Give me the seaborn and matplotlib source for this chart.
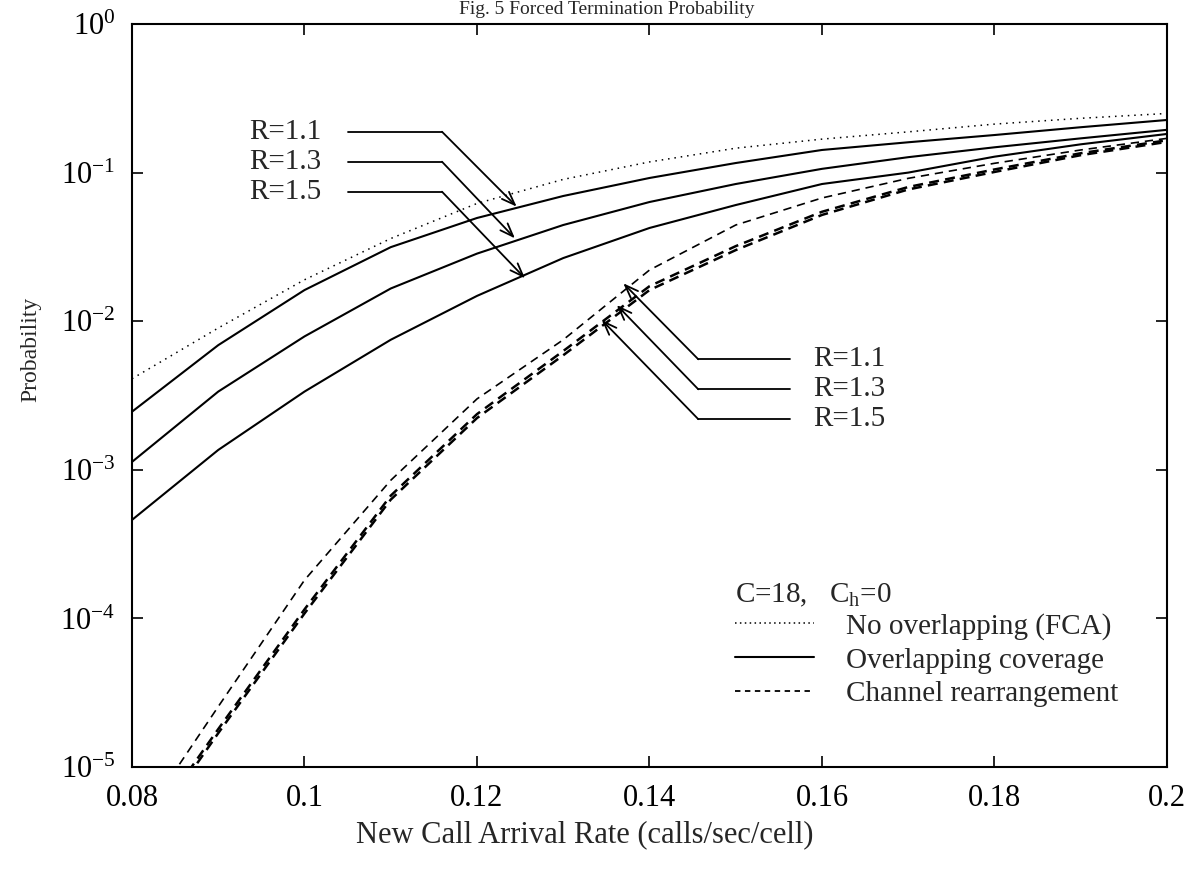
import numpy as np
import pandas as pd
import matplotlib
matplotlib.use("Agg")
import matplotlib.pyplot as plt
from matplotlib.lines import Line2D
from matplotlib.ticker import LogFormatterMathtext, NullLocator, FixedLocator
import seaborn as sns

# ---------------- data ----------------
arrival_rate = [0.08, 0.09, 0.10, 0.11, 0.12, 0.13, 0.14, 0.15, 0.16, 0.17, 0.18, 0.19, 0.20]

no_overlap_fca = [4.1e-3, 9.0e-3, 1.9e-2, 3.6e-2, 6.2e-2, 9.0e-2, 1.18e-1, 1.46e-1, 1.68e-1,
                  1.88e-1, 2.12e-1, 2.32e-1, 2.50e-1]

overlap_r11 = [2.46e-3, 6.9e-3, 1.62e-2, 3.15e-2, 4.95e-2, 6.96e-2, 9.2e-2, 1.16e-1, 1.42e-1,
               1.60e-1, 1.79e-1, 2.02e-1, 2.26e-1]
overlap_r13 = [1.13e-3, 3.36e-3, 7.9e-3, 1.66e-2, 2.85e-2, 4.44e-2, 6.34e-2, 8.38e-2, 1.06e-1,
               1.27e-1, 1.48e-1, 1.70e-1, 1.94e-1]
overlap_r15 = [4.6e-4, 1.36e-3, 3.36e-3, 7.5e-3, 1.48e-2, 2.66e-2, 4.24e-2, 6.05e-2, 8.38e-2,
               1.0e-1, 1.28e-1, 1.55e-1, 1.82e-1]

rearr_r11 = [3.5e-6, 2.55e-5, 1.81e-4, 8.5e-4, 3.0e-3, 7.5e-3, 2.21e-2, 4.44e-2, 6.75e-2,
             9.15e-2, 1.155e-1, 1.42e-1, 1.70e-1]
rearr_r13 = [2.7e-6, 1.8e-5, 1.15e-4, 6.7e-4, 2.37e-3, 6.3e-3, 1.72e-2, 3.2e-2, 5.45e-2,
             8.0e-2, 1.05e-1, 1.35e-1, 1.65e-1]
rearr_r15 = [2.5e-6, 1.69e-5, 1.08e-4, 6.3e-4, 2.23e-3, 5.9e-3, 1.62e-2, 3.01e-2, 5.19e-2,
             7.7e-2, 1.01e-1, 1.31e-1, 1.61e-1]

xtick_values = [0.08, 0.10, 0.12, 0.14, 0.16, 0.18, 0.20]
xtick_labels = ["0.08", "0.1", "0.12", "0.14", "0.16", "0.18", "0.2"]
ytick_values = [1e-5, 1e-4, 1e-3, 1e-2, 1e-1, 1e0]

legend_labels = ["No overlapping (FCA)", "Overlapping coverage", "Channel rearrangement"]
r_labels = ["R=1.1", "R=1.3", "R=1.5"]

# ---------------- style ----------------
sns.set_theme(style="ticks")
plt.rcParams["font.family"] = ["Liberation Serif", "DejaVu Serif"]
plt.rcParams["mathtext.fontset"] = "custom"
plt.rcParams["mathtext.rm"] = "Liberation Serif"
plt.rcParams["mathtext.it"] = "Liberation Serif:italic"
plt.rcParams["axes.linewidth"] = 1.5

fig = plt.figure(figsize=(11.88, 8.77), dpi=100)
ax = fig.add_axes([132 / 1188, 1 - 767 / 877, (1167 - 132) / 1188, (767 - 24) / 877])

series = [
    (no_overlap_fca, dict(linestyle=(0, (1, 3.2)), linewidth=1.1)),
    (overlap_r11, dict(linestyle="-", linewidth=1.5)),
    (overlap_r13, dict(linestyle="-", linewidth=1.5)),
    (overlap_r15, dict(linestyle="-", linewidth=1.5)),
    (rearr_r11, dict(linestyle=(0, (5, 3.5)), linewidth=1.2)),
    (rearr_r13, dict(linestyle=(0, (4, 2.5)), linewidth=1.8)),
    (rearr_r15, dict(linestyle=(0, (4, 2.5)), linewidth=1.8)),
]
for vals, kw in series:
    df = pd.DataFrame({"x": arrival_rate, "y": vals})
    sns.lineplot(data=df, x="x", y="y", ax=ax, color="black", estimator=None,
                 sort=False, legend=False, **kw)

ax.set_yscale("log")
ax.set_xlim(0.08, 0.20)
ax.set_ylim(1e-5, 1.0)

ax.xaxis.set_major_locator(FixedLocator(xtick_values))
ax.set_xticklabels(xtick_labels)
ax.yaxis.set_major_locator(FixedLocator(ytick_values))
ax.yaxis.set_major_formatter(LogFormatterMathtext())
ax.yaxis.set_minor_locator(NullLocator())
ax.xaxis.set_minor_locator(NullLocator())
ax.tick_params(axis="both", which="major", direction="in", length=8, width=1.2,
               top=True, right=True, labelsize=22, pad=12, colors="black")
ax.tick_params(axis="x", pad=12)
for s in ax.spines.values():
    s.set_visible(True)
    s.set_color("black")

ax.set_xlabel("New Call Arrival Rate (calls/sec/cell)", fontsize=22)
ax.xaxis.set_label_coords((585 - 132) / 1035, -(835 - 767) / 743)
ax.xaxis.label.set_va("center")
ax.set_ylabel("Probability", fontsize=17)
ax.yaxis.set_label_coords(-(132 - 31) / 1035, (767 - 349) / 743)
ax.yaxis.label.set_va("center")

# ---------------- title (at the very top, as in the scan) ----------------
fig.text(0.511, 1 - 1 / 877, "Fig. 5 Forced Termination Probability", ha="center",
         va="top", fontsize=14)

# ---------------- annotations ----------------
arrow_kw = dict(arrowstyle="->,head_length=0.8,head_width=0.3", lw=1.3, color="black",
                shrinkA=0, shrinkB=0)

# upper-left group -> overlapping coverage curves
upper_y = [0.1884, 0.1184, 0.0744]
upper_tips = [(0.1246, 0.0590), (0.1244, 0.0361), (0.12557, 0.01944)]
for lab, yy, tip in zip(r_labels, upper_y, upper_tips):
    ax.text(0.1045 - 0.0025, yy, lab, ha="right", va="center", fontsize=21)
    ax.plot([0.10504, 0.11594], [yy, yy], color="black", lw=1.3)
    ax.annotate("", xy=tip, xytext=(0.11594, yy), arrowprops=arrow_kw)

# lower-right group -> channel rearrangement curves
lower_y = [5.54e-3, 3.48e-3, 2.19e-3]
lower_tips = [(0.13696, 0.0180), (0.1362, 0.01285), (0.13446, 0.0102)]
for lab, yy, tip in zip(r_labels, lower_y, lower_tips):
    ax.text(0.1590, yy, lab, ha="left", va="center", fontsize=21)
    ax.plot([0.15629, 0.14566], [yy, yy], color="black", lw=1.3)
    ax.annotate("", xy=tip, xytext=(0.14566, yy), arrowprops=arrow_kw)

# ---------------- legend ----------------
ax.text((735 - 132) / 1035, (767 - 595) / 743, r"C=18,   C$_{\mathrm{h}}$=0",
        transform=ax.transAxes, ha="left", va="center", fontsize=21)
handles = [
    Line2D([], [], color="black", linestyle=(0, (1, 2.2)), linewidth=1.1),
    Line2D([], [], color="black", linestyle="-", linewidth=1.5),
    Line2D([], [], color="black", linestyle=(0, (3, 2.5)), linewidth=1.3),
]
leg = ax.legend(handles, legend_labels,
                loc="upper left", bbox_to_anchor=(0.5826, (767 - 613) / 743), frameon=False,
                fontsize=21, handlelength=2.7, handletextpad=1.1,
                labelspacing=0.25, borderpad=0, borderaxespad=0)

fig.savefig("out.png", dpi=100)
